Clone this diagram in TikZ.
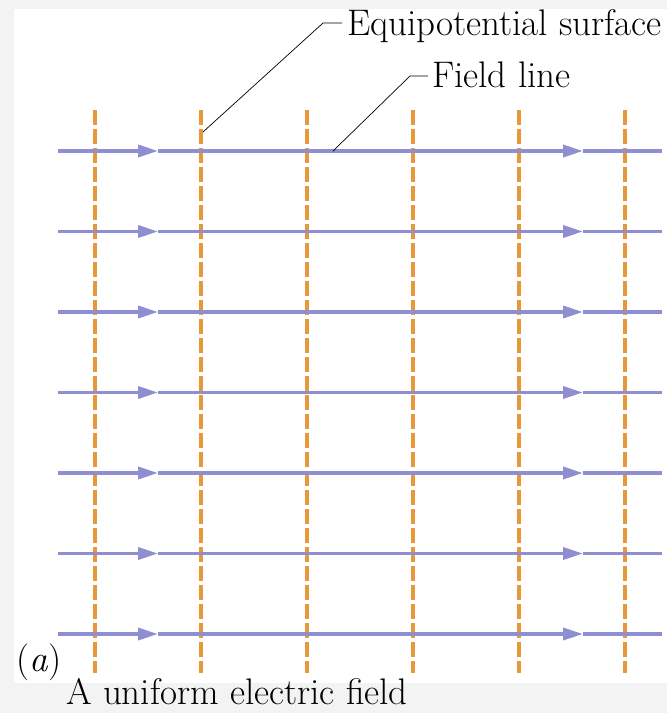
\documentclass[tikz,border=0pt]{standalone}
\usepackage{tikz}
\usetikzlibrary{arrows.meta, positioning}

\definecolor{fieldblue}{RGB}{142,142,208}
\definecolor{equiorange}{RGB}{232,152,58}
\definecolor{paper}{RGB}{243,243,243}

\tikzset{
	fieldline/.style={line width=3.5pt, color=fieldblue},
	fieldarrow/.style={fieldline, -{Triangle[length=20pt, width=12pt]}},
	equiline/.style={line width=3.5pt, color=equiorange, dash pattern=on 15pt off 4pt},
	leader/.style={line width=0.7pt, color=black},
	calltext/.style={inner sep=0pt, anchor=base west, font=\fontsize{37}{43}\selectfont}
}

\begin{document}
\begin{tikzpicture}[x=1pt, y=-1pt]
			\fill[paper] (0, 0) rectangle (667, 713);
			\fill[white] (14, 9) rectangle (667, 683);
			\useasboundingbox (0, 0) rectangle (667, 713);
			\foreach \x in {95, 201, 307, 413, 519, 625}
				\draw[equiline] (\x, 110) -- (\x, 673);
			\foreach \y in {151, 231.5, 312, 392.5, 473, 553.5, 634} {
				\draw[fieldarrow] (58, \y) -- (158, \y);
				\draw[fieldarrow] (158, \y) -- (583, \y);
				\draw[fieldline] (583, \y) -- (662, \y);
			}
			\node[calltext] (eqlabel) at (347, 35) {Equipotential surface};
			\node[calltext] (fieldlabel) at (432, 87) {Field line};
			\node[calltext] (partlabel) at (16, 671) {(\textit{a})};
			\node[calltext] (caption) at (66, 704) {A uniform electric field};
			\coordinate (eqtip) at (203, 132);
			\coordinate (eqknee) at (323, 23);
			\coordinate (fieldtip) at (333, 151);
			\coordinate (fieldknee) at (410, 76);
			\draw[leader] (eqtip) -- (eqknee) -- ([xshift=-5pt]eqknee -| eqlabel.west);
			\draw[leader] (fieldtip) -- (fieldknee) -- ([xshift=-4pt]fieldknee -| fieldlabel.west);
		\end{tikzpicture}
\end{document}
